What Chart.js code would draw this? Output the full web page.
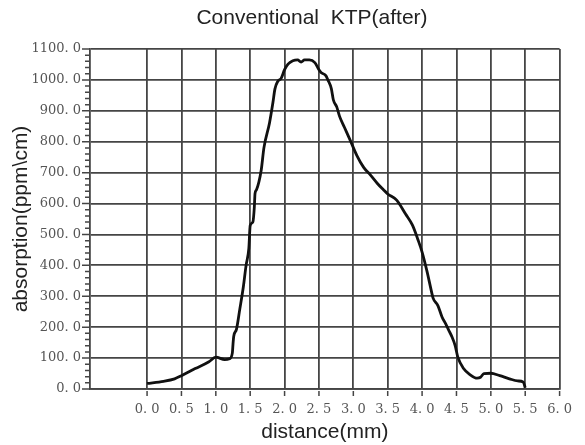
<!doctype html>
<html lang="en">
<head>
<meta charset="utf-8">
<title>Conventional KTP(after)</title>
<script src="https://cdn.jsdelivr.net/npm/chart.js"></script>
<style>
  html, body { margin: 0; padding: 0; background: #fff; }
</style>
</head>
<body>
<canvas id="chart" width="585" height="445"></canvas>
<script>
  // distance (mm) and absorption (ppm\cm)
  const distance = [
    0.00, 0.24, 0.40, 0.50, 0.70, 0.90, 1.00, 1.13, 1.20, 1.24, 1.25, 1.26, 1.30,
    1.35, 1.40, 1.44, 1.48, 1.50, 1.54, 1.56, 1.57, 1.59, 1.66, 1.70, 1.78, 1.83,
    1.86, 1.90, 1.95, 2.00, 2.05, 2.12, 2.19, 2.24, 2.29, 2.36, 2.44, 2.50, 2.53,
    2.60, 2.63, 2.68, 2.71, 2.76, 2.80, 2.87, 2.96, 3.05, 3.15, 3.25, 3.35, 3.44,
    3.50, 3.63, 3.76, 3.86, 3.94, 4.00, 4.07, 4.14, 4.16, 4.23, 4.29, 4.34, 4.39,
    4.43, 4.48, 4.52, 4.60, 4.70, 4.80, 4.85, 4.90, 5.00, 5.13, 5.27, 5.39, 5.47, 5.50
  ];
  const absorption = [
    18, 25, 33, 43, 66, 88, 103, 95, 98, 116, 145, 170, 193,
    260, 330, 400, 454, 529, 541, 588, 632, 644, 708, 781, 860, 926,
    971, 995, 1005, 1033, 1051, 1062, 1065, 1058, 1065, 1065, 1056, 1033, 1024,
    1014, 1000, 972, 935, 912, 882, 847, 802, 756, 717, 692, 665, 644,
    631, 611, 566, 530, 483, 443, 382, 312, 294, 270, 233, 212, 189,
    171, 141, 103, 67, 46, 35, 38, 50, 51, 43, 33, 26, 23, 4
  ];
  const xTicks = [0, 0.5, 1.0, 1.5, 2.0, 2.5, 3.0, 3.5, 4.0, 4.5, 5.0, 5.5, 6.0];
  const yTicks = [0, 100, 200, 300, 400, 500, 600, 700, 800, 900, 1000, 1100];

  const gridColor = '#454545';
  const fmt = v => Number(v).toFixed(1).replace('.', '. ');

  // title, minor y ticks and detached x tick marks
  const decor = {
    id: 'decor',
    afterDraw(chart) {
      const { ctx, chartArea, scales: { x, y } } = chart;
      ctx.save();
      ctx.strokeStyle = gridColor;
      ctx.lineWidth = 1.5;
      ctx.beginPath();
      for (let i = 0; i <= 55; i++) {
        const py = y.getPixelForValue(i * 20);
        const len = i % 5 === 0 ? 8 : 5;
        ctx.moveTo(chartArea.left - len, py);
        ctx.lineTo(chartArea.left, py);
      }
      xTicks.forEach(v => {
        const px = x.getPixelForValue(v);
        ctx.moveTo(px, chartArea.bottom + 2);
        ctx.lineTo(px, chartArea.bottom + 7);
      });
      ctx.stroke();

      ctx.fillStyle = '#222';
      ctx.font = '21px "Liberation Sans"';
      ctx.textAlign = 'center';
      ctx.textBaseline = 'middle';
      ctx.fillText('Conventional  KTP(after)', 312, 18);
      ctx.restore();
    }
  };

  new Chart(document.getElementById('chart'), {
    type: 'line',
    data: {
      datasets: [{
        data: distance.map((d, i) => ({ x: d, y: absorption[i] })),
        borderColor: '#111',
        borderWidth: 2.8,
        pointRadius: 0,
        fill: false,
        cubicInterpolationMode: 'monotone'
      }]
    },
    options: {
      responsive: false,
      animation: false,
      layout: { padding: { top: 49, right: 13, bottom: 0, left: 0 } },
      plugins: { legend: { display: false }, tooltip: { enabled: false } },
      scales: {
        x: {
          type: 'linear',
          min: -0.83,
          max: 6,
          afterBuildTicks: s => { s.ticks = xTicks.map(v => ({ value: v })); },
          afterFit: s => { s.height = 56; },
          grid: { color: gridColor, lineWidth: 1.8, drawTicks: false },
          border: { color: gridColor, width: 1.8 },
          ticks: {
            padding: 13, autoSkip: false, maxRotation: 0, color: '#555',
            font: { family: 'DejaVu Serif', size: 13 }, callback: fmt
          },
          title: {
            display: true, text: 'distance(mm)', color: '#222',
            font: { family: 'Liberation Sans', size: 21 }, padding: { top: 0, bottom: 0 }
          }
        },
        y: {
          min: 0,
          max: 1100,
          afterBuildTicks: s => { s.ticks = yTicks.map(v => ({ value: v })); },
          afterFit: s => { s.width = 90; },
          grid: { color: gridColor, lineWidth: 1.8, drawTicks: false },
          border: { color: gridColor, width: 1.8 },
          ticks: {
            padding: 9, color: '#555',
            font: { family: 'DejaVu Serif', size: 13 }, callback: fmt
          },
          title: {
            display: true, text: 'absorption(ppm\\cm)', color: '#222',
            font: { family: 'Liberation Sans', size: 21 }, padding: { top: 9, bottom: 0 }
          }
        }
      }
    },
    plugins: [decor]
  });
</script>
</body>
</html>
